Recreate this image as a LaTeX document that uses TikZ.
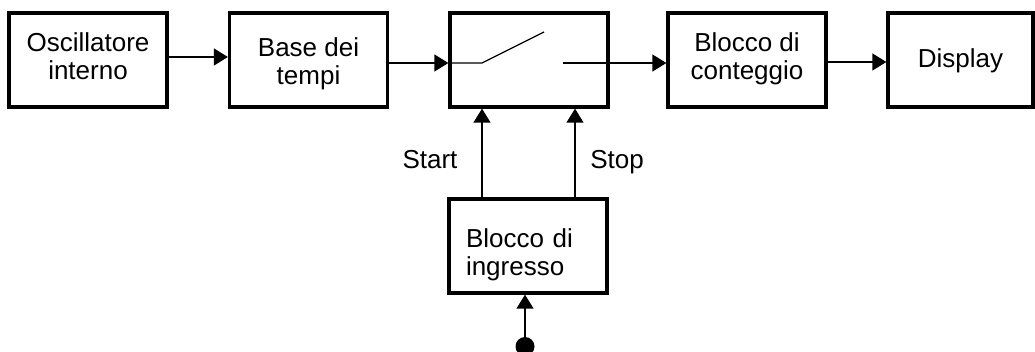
\documentclass[tikz,border=0pt]{standalone}
\usepackage{fontspec}
\setmainfont{Liberation Sans}
\usetikzlibrary{arrows.meta}
\begin{document}
\begin{tikzpicture}[x=1pt,y=-1pt,
  blk/.style={draw, line width=3.3pt, minimum width=158pt, minimum height=94pt, inner sep=0pt},
  txt/.style={font=\fontsize{26}{28}\selectfont, inner sep=0pt, align=center},
  wire/.style={line width=1.3pt},
  arr/.style={wire, -{Triangle[length=14pt,width=17pt]}}]
\useasboundingbox (0,0) rectangle (1035,352);

% blocks
\node[blk] (osc)  at (88,60)    {};
\node[blk] (base) at (308.5,60) {};
\node[blk] (sw)   at (529,60)   {};
\node[blk] (cnt)  at (747,60)   {};
\node[blk, minimum width=145pt] (disp) at (960.5,60) {};
\node[blk] (inp)  at (528,246)  {};

% block captions
\node[txt, yshift=3.5pt]  (osc-t)  at (osc)  {Oscillatore\\interno};
\node[txt, yshift=-4.2pt] (base-t) at (base) {Base dei\\tempi};
\node[txt, yshift=0.8pt]  (cnt-t)  at (cnt)  {Blocco di\\conteggio};
\node[txt, yshift=-1.2pt] (disp-t) at (disp) {Display};
\node[txt, yshift=-8.7pt, text width=124pt, align=left] (inp-t) at (inp) {Blocco di\\ingresso};

% switch contacts
\coordinate (pivot)   at (482,63);
\coordinate (blade)   at (544,32);
\coordinate (contact) at (563,63);
\coordinate (stopx)   at (575,0);

% signal path
\draw[arr] ([yshift=3pt]osc.east) -- ([yshift=3pt]base.west);
\draw[arr] ([yshift=-3pt]base.east) -- ([yshift=-3pt]sw.west);
\draw[wire] ([yshift=-3pt]sw.west) -- (pivot) -- (blade);
\draw[arr] (contact) -- (contact -| cnt.west);
\draw[arr] ([yshift=-2pt]cnt.east) -- ([yshift=-2pt]disp.west);

% start / stop control
\draw[arr] (inp.north -| pivot) -- (sw.south -| pivot);
\draw[arr] (inp.north -| stopx) -- (sw.south -| stopx);
\node[txt, anchor=base] (start) at (430,169) {Start};
\node[txt, anchor=base] (stop)  at (617,169) {Stop};

% input terminal
\node[circle, fill, minimum size=19pt, inner sep=0pt] (src) at (525,346.5) {};
\draw[arr] (src) -- (src |- inp.south);
\end{tikzpicture}
\end{document}
